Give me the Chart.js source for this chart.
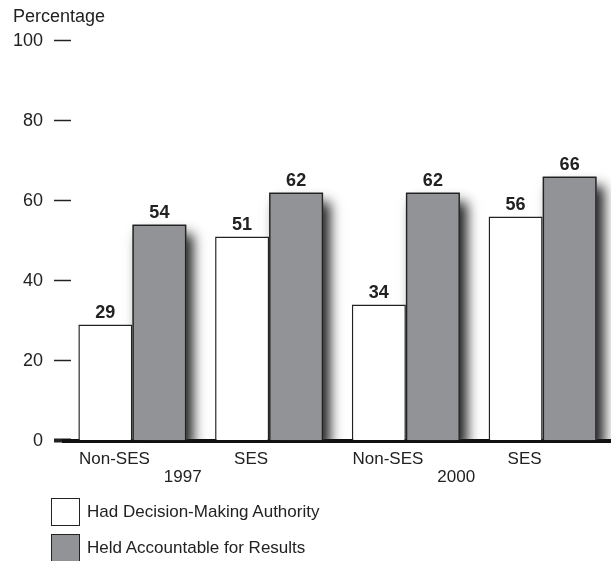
<!DOCTYPE html>
<html>
<head>
<meta charset="utf-8">
<script src="https://cdn.jsdelivr.net/npm/chart.js@4.4.1/dist/chart.umd.min.js"></script>
<style>
    body { margin: 0; background: #fff; }
    #wrap { position: relative; width: 611px; height: 561px; }
    #legend { position: absolute; left: 51px; top: 497px; font: 17px "Liberation Sans", Arial, sans-serif; color: #222; }
    .item { display: flex; align-items: center; height: 29px; margin-bottom: 7px; }
    .box { width: 27px; height: 26px; border: 1.5px solid #222; margin-right: 7px; }
</style>
</head>
<body>
<div id="wrap">
    <canvas id="grafico" width="611" height="561"></canvas>
    <div id="legend"></div>
</div>
<script>
const categories = ["Non-SES", "SES", "Non-SES", "SES"];
const years = ["1997", "2000"];
const seriesNames = ["Had Decision-Making Authority", "Held Accountable for Results"];
const decisionValues = [29, 51, 34, 56];
const accountableValues = [54, 62, 62, 66];
const yTickValues = [0, 20, 40, 60, 80, 100];

const fontFamily = '"Liberation Sans", Arial, sans-serif';
const colors = ["#ffffff", "#929396"];

// sombra detras de las barras grises (la barra la tapa despues)
const barShadow = {
    id: "barShadow",
    beforeDatasetDraw(chart, args) {
        if (args.index !== 1) return;
        const ctx = chart.ctx;
        const area = chart.chartArea;
        ctx.save();
        ctx.beginPath();
        ctx.rect(area.left, area.top - 20, area.right - area.left, area.bottom - area.top + 20);
        ctx.clip();
        ctx.shadowColor = "rgba(30, 30, 30, 1)";
        ctx.shadowBlur = 12;
        ctx.shadowOffsetX = 7;
        ctx.shadowOffsetY = 9;
        ctx.fillStyle = "#555";
        args.meta.data.forEach((bar) => {
            const p = bar.getProps(["x", "y", "base", "width"], true);
            ctx.fillRect(p.x - p.width / 2, p.y, p.width, p.base - p.y);
        });
        ctx.restore();
    },
};

// las rayitas del eje Y cruzan un poco el area del grafico
const shiftYAxis = {
    id: "shiftYAxis",
    afterLayout(chart) {
        chart.scales.y.right += 7;
    },
};

// valores encima de cada barra
const valueLabels = {
    id: "valueLabels",
    afterDatasetsDraw(chart) {
        const ctx = chart.ctx;
        ctx.save();
        ctx.font = "bold 18px " + fontFamily;
        ctx.fillStyle = "#222";
        ctx.textAlign = "center";
        ctx.textBaseline = "bottom";
        chart.data.datasets.forEach((ds, i) => {
            chart.getDatasetMeta(i).data.forEach((bar, j) => {
                ctx.fillText(ds.data[j], bar.x, bar.y - 3);
            });
        });
        ctx.restore();
    },
};

const data = {
    labels: categories,
    datasets: [
        {
            label: seriesNames[0],
            data: decisionValues,
            backgroundColor: colors[0],
            borderColor: "#222",
            borderWidth: 1.5,
        },
        {
            label: seriesNames[1],
            data: accountableValues,
            backgroundColor: colors[1],
            borderColor: "#222",
            borderWidth: 1.5,
        },
    ],
};

const chart = new Chart(document.getElementById("grafico"), {
    type: "bar",
    data: data,
    plugins: [shiftYAxis, barShadow, valueLabels],
    options: {
        responsive: false,
        animation: false,
        layout: { padding: { top: 6, left: 13, right: 0, bottom: 71 } },
        datasets: { bar: { categoryPercentage: 0.79, barPercentage: 1.0 } },
        plugins: {
            legend: { display: false },
            tooltip: { enabled: false },
            title: {
                display: true,
                text: "Percentage",
                align: "start",
                color: "#222",
                font: { family: fontFamily, size: 18, weight: "normal" },
                padding: { top: 0, bottom: 13 },
            },
        },
        scales: {
            y: {
                min: 0,
                max: 100,
                afterBuildTicks: (axis) => {
                    axis.ticks = yTickValues.map((v) => ({ value: v }));
                },
                afterFit: (axis) => {
                    axis.width = 51;
                },
                border: { display: false },
                grid: {
                    drawOnChartArea: false,
                    drawTicks: true,
                    tickLength: 17,
                    tickColor: "#222",
                    tickWidth: (c) => (c.tick && c.tick.value === 0 ? 4 : 1.5),
                },
                ticks: {
                    padding: 11,
                    color: "#222",
                    font: { family: fontFamily, size: 18 },
                },
            },
            x: {
                z: 1,
                afterFit: (axis) => {
                    axis.height = 25;
                },
                border: { display: true, color: "#111", width: 4 },
                grid: { display: false, drawTicks: false },
                ticks: {
                    padding: 9,
                    labelOffset: -18,
                    color: "#222",
                    font: { family: fontFamily, size: 17 },
                },
            },
            x2: {
                type: "category",
                labels: years,
                position: "bottom",
                border: { display: false },
                grid: { display: false, drawTicks: false },
                ticks: {
                    padding: 2,
                    labelOffset: -18,
                    color: "#222",
                    font: { family: fontFamily, size: 17 },
                },
            },
        },
    },
});

// Leyenda en columna
const legendContainer = document.getElementById("legend");
data.datasets.forEach((ds) => {
    const item = document.createElement("div");
    item.className = "item";
    const box = document.createElement("div");
    box.className = "box";
    box.style.background = ds.backgroundColor;
    const text = document.createElement("span");
    text.textContent = ds.label;
    item.appendChild(box);
    item.appendChild(text);
    legendContainer.appendChild(item);
});
</script>
</body>
</html>
